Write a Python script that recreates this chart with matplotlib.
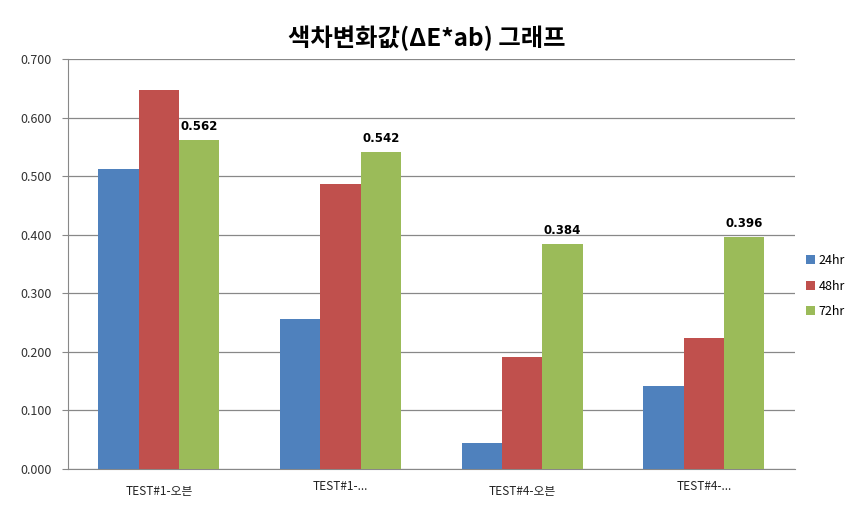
import matplotlib
matplotlib.use("Agg")
import matplotlib.pyplot as plt
import numpy as np

plt.rcParams['font.family'] = ['Noto Sans CJK KR', 'DejaVu Sans']

categories = ["TEST#1-오븐", "TEST#1-...", "TEST#4-오븐", "TEST#4-..."]
series_names = ["24hr", "48hr", "72hr"]
v24 = [0.512, 0.256, 0.044, 0.142]
v48 = [0.647, 0.487, 0.191, 0.224]
v72 = [0.562, 0.542, 0.384, 0.396]
colors = ["#4F81BD", "#C0504D", "#9BBB59"]

fig = plt.figure(figsize=(8.54, 5.07), dpi=100)
ax = fig.add_axes([0.0796, 0.075, 0.851, 0.8086])

x = np.arange(len(categories))
w = 0.222
for i, (vals, name, c) in enumerate(zip([v24, v48, v72], series_names, colors)):
    bars = ax.bar(x + (i - 1) * w, vals, w, color=c, label=name, zorder=3)
    if name == "72hr":
        for b, v in zip(bars, vals):
            ax.text(b.get_x() + b.get_width() / 2, v + 0.012, "%.3f" % v,
                    ha="center", va="bottom", fontsize=8.5, fontweight="bold",
                    family="DejaVu Sans")

ax.set_xlim(-0.5, len(categories) - 0.5)
ax.set_ylim(0, 0.7)
ax.set_yticks(np.arange(0, 0.71, 0.1))
ax.set_yticklabels(["%.3f" % t for t in np.arange(0, 0.71, 0.1)], fontsize=9, color="#333333")
ax.yaxis.grid(True, color="#888888", linewidth=0.9, zorder=0)
ax.set_axisbelow(True)
for s in ["top", "right"]:
    ax.spines[s].set_visible(False)
for s in ["left", "bottom"]:
    ax.spines[s].set_color("#888888")
ax.tick_params(axis="y", length=4, color="#888888", pad=8)
ax.tick_params(axis="x", length=0)
ax.set_xticks(x)
ax.set_xticklabels([])
offsets = [-0.055, -0.042, -0.055, -0.042]
for xi, lab, off in zip(x, categories, offsets):
    ax.text(xi, off, lab, transform=ax.get_xaxis_transform(), ha="center",
            va="center", fontsize=8.5, color="#222222")

fig.text(0.5, 0.925, "색차변화값(ΔE*ab) 그래프", ha="center", va="center",
         fontsize=17.5, fontweight="bold")

ax.legend(loc="center left", bbox_to_anchor=(1.0, 0.446), frameon=False,
          fontsize=9, handlelength=0.7, handleheight=0.7, labelspacing=1.0,
          handletextpad=0.3)

fig.savefig("out.png", dpi=100)
